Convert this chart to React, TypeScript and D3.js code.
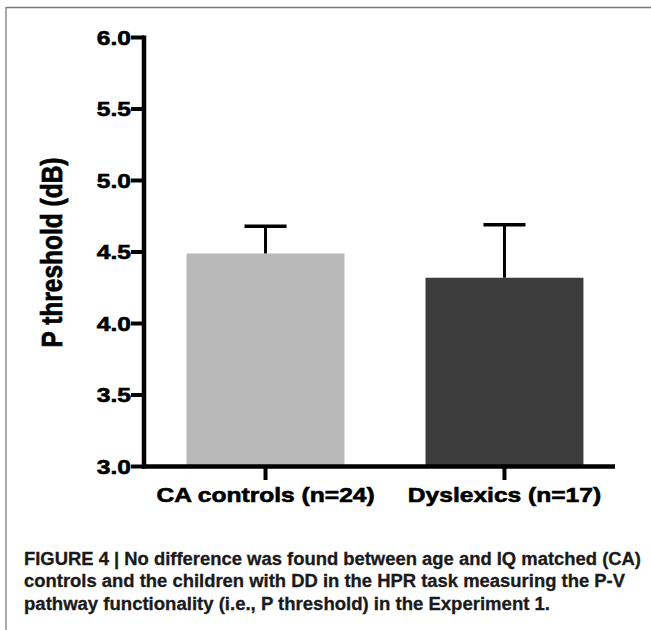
import React from "react";
import * as d3 from "d3";

const categories = ["CA controls (n=24)", "Dyslexics (n=17)"];
const means = [4.49, 4.32];
const errorTops = [4.68, 4.69];
const barColors = ["#b9b9b9", "#3d3d3d"];
const yTicks = [3.0, 3.5, 4.0, 4.5, 5.0, 5.5, 6.0];
const yLabel = "P threshold (dB)";
const captionLines = [
  "FIGURE 4 | No difference was found between age and IQ matched (CA)",
  "controls and the children with DD in the HPR task measuring the P-V",
  "pathway functionality (i.e., P threshold) in the Experiment 1.",
];
const captionWidths = [617, 601, 526];

const W = 651;
const H = 630;
const axisX = 144;
const xEnd = 615;
const STRETCH = 1.2;
const FONT = "'Liberation Sans', Arial, Helvetica, sans-serif";

export default function App() {
  const y = d3.scaleLinear().domain([3, 6]).range([466.5, 37.5]);
  const x = d3
    .scaleBand<string>()
    .domain(categories)
    .range([150, 620])
    .paddingInner(0.339)
    .paddingOuter(0.153);
  const bw = x.bandwidth();
  const capW = 42;
  const y0 = y(3);

  return (
    <svg
      width={W}
      height={H}
      style={{ position: "absolute", left: 0, top: 0, background: "#fff" }}
      fontFamily={FONT}
    >
      <rect x={0} y={0} width={W} height={H} fill="#fff" />
      {/* frame */}
      <line x1={6} y1={7.5} x2={W} y2={7.5} stroke="#7a7a7a" strokeWidth={1.3} />
      <line x1={6} y1={7} x2={6} y2={H} stroke="#7a7a7a" strokeWidth={1.3} />

      {/* bars */}
      {categories.map((c, i) => (
        <rect
          key={c}
          x={x(c)}
          y={y(means[i])}
          width={bw}
          height={y0 - y(means[i])}
          fill={barColors[i]}
        />
      ))}

      {/* error bars */}
      {categories.map((c, i) => {
        const cx = (x(c) as number) + bw / 2;
        return (
          <g key={c + "e"} stroke="#000">
            <line x1={cx} x2={cx} y1={y(means[i])} y2={y(errorTops[i])} strokeWidth={3} />
            <line
              x1={cx - capW / 2}
              x2={cx + capW / 2}
              y1={y(errorTops[i])}
              y2={y(errorTops[i])}
              strokeWidth={3.5}
            />
          </g>
        );
      })}

      {/* y axis */}
      <line x1={axisX} x2={axisX} y1={y(6) - 2} y2={y0 + 2} stroke="#000" strokeWidth={4.5} />
      {yTicks.map((t) => (
        <g key={t}>
          <line x1={131} x2={axisX} y1={y(t)} y2={y(t)} stroke="#000" strokeWidth={4} />
          <text
            transform={`translate(131,${y(t) + 7.4}) scale(${STRETCH},1)`}
            textAnchor="end"
            fontWeight="bold"
            fontSize={20.5}
            fill="#000"
            stroke="#000"
            strokeWidth={0.6}
          >
            {t.toFixed(1)}
          </text>
        </g>
      ))}

      {/* x axis */}
      <line x1={axisX - 2} x2={xEnd} y1={y0} y2={y0} stroke="#000" strokeWidth={4.5} />
      {categories.map((c) => {
        const cx = (x(c) as number) + bw / 2;
        return (
          <g key={c + "t"}>
            <line x1={cx} x2={cx} y1={y0} y2={480} stroke="#000" strokeWidth={4} />
            <text
              transform={`translate(${cx},502) scale(${STRETCH},1)`}
              textAnchor="middle"
              fontWeight="bold"
              fontSize={20.5}
              fill="#000"
              stroke="#000"
              strokeWidth={0.6}
            >
              {c}
            </text>
          </g>
        );
      })}

      {/* y label */}
      <text
        transform={`translate(62,252.5) scale(${STRETCH},1) rotate(-90)`}
        textAnchor="middle"
        fontWeight="bold"
        fontSize={24.5}
        fill="#000"
        stroke="#000"
        strokeWidth={0.6}
      >
        {yLabel}
      </text>

      {/* caption */}
      {captionLines.map((l, i) => (
        <text
          key={i}
          x={24}
          y={564.5 + i * 22.8}
          fontWeight="bold"
          fontSize={18}
          fill="#1a1a1a"
          stroke="#1a1a1a"
          strokeWidth={0.3}
          textLength={captionWidths[i]}
          lengthAdjust="spacingAndGlyphs"
        >
          {l}
        </text>
      ))}
    </svg>
  );
}
